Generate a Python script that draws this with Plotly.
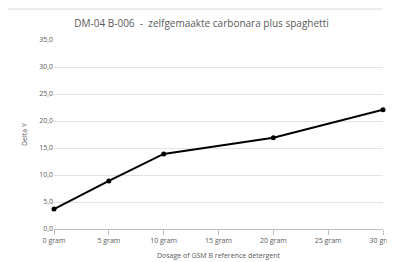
import plotly.graph_objects as go

x_vals = [0, 5, 10, 20, 30]
y_vals = [3.7, 8.9, 13.9, 16.9, 22.1]
x_ticks = [0, 5, 10, 15, 20, 25, 30]
x_ticktext = ["0 gram", "5 gram", "10 gram", "15 gram", "20 gram", "25 gram", "30 gram"]
title = "DM-04 B-006  -  zelfgemaakte carbonara plus spaghetti"

fig = go.Figure()
fig.add_trace(go.Scatter(
    x=x_vals, y=y_vals, mode="lines+markers",
    line=dict(color="black", width=2),
    marker=dict(color="black", size=5),
    cliponaxis=False,
    showlegend=False,
))

W, H = 387, 254
L, R, T, B = 46, 12, 32, 33
font_family = "Open Sans, Liberation Sans, sans-serif"
fig.update_layout(
    width=W, height=H,
    margin=dict(l=L, r=R, t=T, b=B, autoexpand=False),
    paper_bgcolor="white", plot_bgcolor="white",
    separators=",.",
    font=dict(family=font_family, color="#595959", size=7),
    title=dict(text=title, x=0.5, xanchor="center", y=1 - 15 / H, yanchor="middle",
               font=dict(size=10, color="#595959", family=font_family)),
    xaxis=dict(range=[0, 30], tickvals=x_ticks, ticktext=x_ticktext,
               showgrid=False, showline=True, linecolor="#bfbfbf", linewidth=1,
               ticks="outside", ticklen=5, tickcolor="#bfbfbf",
               ticklabeloverflow="allow", automargin=False,
               tickfont=dict(size=7, color="#595959"),
               title=dict(text="Dosage of GSM B reference detergent",
                          font=dict(size=7, color="#595959"), standoff=8),
               zeroline=False),
    yaxis=dict(range=[0, 35], dtick=5, tickformat=".1f", automargin=False,
               showgrid=True, gridcolor="#e3e3e3", gridwidth=1,
               zeroline=False, showline=False, ticks="",
               tickfont=dict(size=7, color="#595959"),
               title=dict(text="Delta Y", font=dict(size=7, color="#595959"), standoff=10)),
)
ph = H - T - B
pw = W - L - R
fig.add_shape(type="line", xref="paper", yref="paper", x0=-L / pw, x1=1.0,
              y0=(ph + T - 1) / ph, y1=(ph + T - 1) / ph,
              line=dict(color="#d9d9d9", width=1))
fig.write_html("out.html")
